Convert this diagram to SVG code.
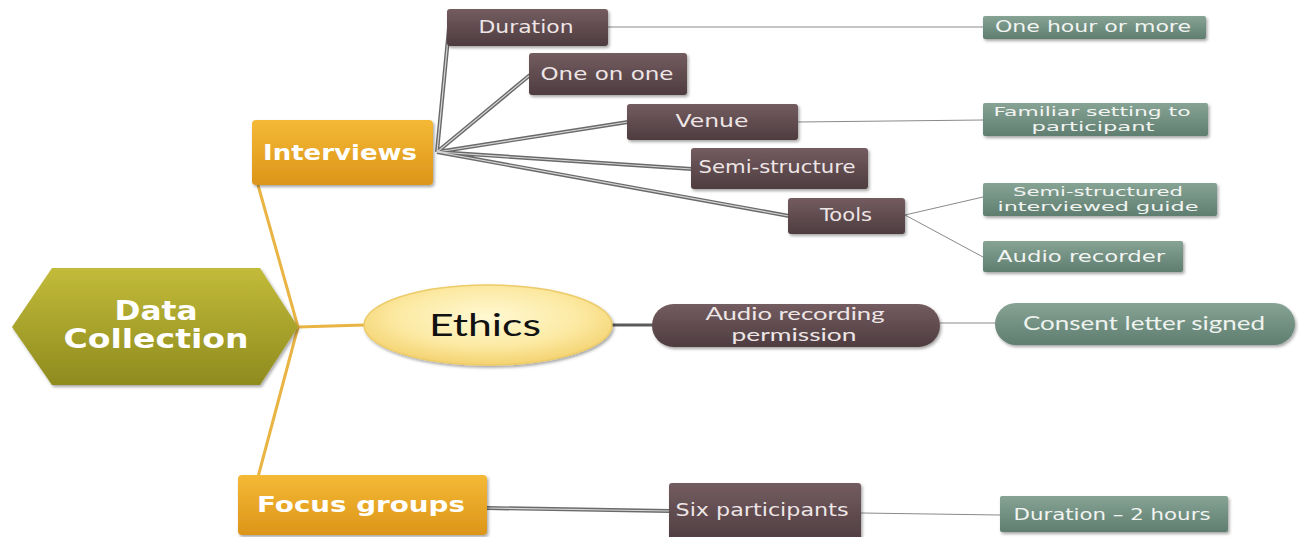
<svg xmlns="http://www.w3.org/2000/svg" width="1307" height="537" viewBox="0 0 1307 537">
<defs>
<linearGradient id="gOlive" x1="0" y1="0" x2="0" y2="1"><stop offset="0" stop-color="#C2BB3A"/><stop offset="1" stop-color="#8F8B1E"/></linearGradient>
<linearGradient id="gOrange" x1="0" y1="0" x2="0" y2="1"><stop offset="0" stop-color="#F5B936"/><stop offset="1" stop-color="#DC9519"/></linearGradient>
<radialGradient id="gEthics" cx="0.5" cy="0.4" r="0.6"><stop offset="0" stop-color="#FFF8D2"/><stop offset="0.6" stop-color="#FCEAA4"/><stop offset="1" stop-color="#F4D270"/></radialGradient>
<linearGradient id="gDark" x1="0" y1="0" x2="0" y2="1"><stop offset="0" stop-color="#735C60"/><stop offset="1" stop-color="#4E3C40"/></linearGradient>
<linearGradient id="gGreen" x1="0" y1="0" x2="0" y2="1"><stop offset="0" stop-color="#86A394"/><stop offset="1" stop-color="#5F7E70"/></linearGradient>
<filter id="sh" x="-10%" y="-20%" width="125%" height="150%"><feDropShadow dx="1.5" dy="2" stdDeviation="1.5" flood-color="#000" flood-opacity="0.35"/></filter>
</defs>
<style>
.g{font-family:"DejaVu Sans",sans-serif;fill:#EEE6E6;font-size:18px}
.gs{font-family:"DejaVu Sans",sans-serif;fill:#F2F4F2;font-size:16px}
.gt{font-family:"DejaVu Sans",sans-serif;fill:#F2F4F2;font-size:12.5px}
.cal{font-family:Lato,"Open Sans",sans-serif}
.b{font-family:"DejaVu Sans",sans-serif;font-weight:bold;fill:#FFFFFF}
.dark{fill:url(#gDark);filter:url(#sh)}
.green{fill:url(#gGreen);filter:url(#sh)}
.orange{fill:url(#gOrange);filter:url(#sh)}
.dbl{stroke:#6A6A6A;stroke-width:4;fill:none}
.dbi{stroke:#D5D5D5;stroke-width:1.2;fill:none}
.thin{stroke:#8A8A8A;stroke-width:1;fill:none}
.or{stroke:#E9B443;stroke-width:3;fill:none}
</style>
<rect width="1307" height="537" fill="#FFFFFF"/>
<g id="connectors">
<path class="or" d="M298,327 L258,185 M298,327 L258,477 M298,327 L364,325"/>
<g>
<path class="dbl" d="M437,152 L449,28 M437,152 L530,75 M437,152 L628,122 M437,152 L692,169 M437,152 L789,216 M487,508 L670,511"/>
<path class="dbi" d="M437,152 L449,28 M437,152 L530,75 M437,152 L628,122 M437,152 L692,169 M437,152 L789,216 M487,508 L670,511"/>
</g>
<path d="M612,325 L653,325" stroke="#5A5A5A" stroke-width="3" fill="none"/>
<path class="thin" d="M608,27 L983,27 M798,122 L983,120 M905,215 L983,197 M905,215 L983,257 M940,323 L996,323 M861,513 L1000,515"/>
</g>
<g id="data-collection">
<polygon points="12,327 52,268 260,268 298,327 260,385 52,385" fill="url(#gOlive)" filter="url(#sh)"/>
<text class="b" x="156" y="320" font-size="27" text-anchor="middle" textLength="83" lengthAdjust="spacingAndGlyphs">Data</text>
<text class="b" x="156" y="348" font-size="27" text-anchor="middle" textLength="185" lengthAdjust="spacingAndGlyphs">Collection</text>
</g>
<g id="interviews">
<rect class="orange" x="252" y="120" width="181" height="65" rx="4"/>
<text class="b" x="340" y="160" font-size="21" text-anchor="middle" textLength="154" lengthAdjust="spacingAndGlyphs">Interviews</text>
</g>
<g id="ethics">
<ellipse cx="488" cy="325" rx="124" ry="40" fill="url(#gEthics)" stroke="#EDCB68" stroke-width="1.5" filter="url(#sh)"/>
<text class="cal" x="485" y="336" font-size="31" fill="#111" text-anchor="middle" textLength="112" lengthAdjust="spacingAndGlyphs">Ethics</text>
</g>
<g id="focus-groups">
<rect class="orange" x="238" y="475" width="249" height="60" rx="4"/>
<text class="b" x="361" y="512" font-size="21" text-anchor="middle" textLength="208" lengthAdjust="spacingAndGlyphs">Focus groups</text>
</g>
<g id="duration">
<rect class="dark" x="447" y="9" width="161" height="37" rx="3"/>
<text class="g" x="526" y="33" text-anchor="middle" textLength="95" lengthAdjust="spacingAndGlyphs">Duration</text>
</g>
<g id="one-on-one">
<rect class="dark" x="529" y="53" width="158" height="42" rx="3"/>
<text class="g" x="607" y="80" text-anchor="middle" textLength="133" lengthAdjust="spacingAndGlyphs">One on one</text>
</g>
<g id="venue">
<rect class="dark" x="627" y="104" width="171" height="36" rx="3"/>
<text class="g" x="712" y="127" text-anchor="middle" textLength="73" lengthAdjust="spacingAndGlyphs">Venue</text>
</g>
<g id="semi-structure">
<rect class="dark" x="691" y="148" width="177" height="41" rx="3"/>
<text class="g" x="777" y="173" text-anchor="middle" textLength="157" lengthAdjust="spacingAndGlyphs">Semi-structure</text>
</g>
<g id="tools">
<rect class="dark" x="788" y="198" width="117" height="36" rx="3"/>
<text class="g" x="846" y="221" text-anchor="middle" textLength="52" lengthAdjust="spacingAndGlyphs">Tools</text>
</g>
<g id="one-hour">
<rect class="green" x="983" y="16" width="223" height="23" rx="2"/>
<text class="gs" x="1093" y="32" text-anchor="middle" textLength="196" lengthAdjust="spacingAndGlyphs">One hour or more</text>
</g>
<g id="familiar-setting">
<rect class="green" x="983" y="103" width="225" height="33" rx="2"/>
<text class="gt" x="1092" y="116" text-anchor="middle" textLength="197" lengthAdjust="spacingAndGlyphs">Familiar setting to</text>
<text class="gt" x="1093" y="131" text-anchor="middle" textLength="123" lengthAdjust="spacingAndGlyphs">participant</text>
</g>
<g id="semi-structured-guide">
<rect class="green" x="983" y="183" width="234" height="33" rx="2"/>
<text class="gt" x="1098" y="196" text-anchor="middle" textLength="170" lengthAdjust="spacingAndGlyphs">Semi-structured</text>
<text class="gt" x="1098" y="211" text-anchor="middle" textLength="201" lengthAdjust="spacingAndGlyphs">interviewed guide</text>
</g>
<g id="audio-recorder">
<rect class="green" x="983" y="241" width="200" height="31" rx="2"/>
<text class="gs" x="1081" y="262" text-anchor="middle" textLength="168" lengthAdjust="spacingAndGlyphs">Audio recorder</text>
</g>
<g id="audio-permission">
<rect class="dark" x="652" y="304" width="288" height="43" rx="21.5"/>
<text class="cal" x="795" y="320" font-size="18" fill="#EEE6E6" text-anchor="middle" textLength="179" lengthAdjust="spacingAndGlyphs">Audio recording</text>
<text class="cal" x="794" y="341" font-size="18" fill="#EEE6E6" text-anchor="middle" textLength="125" lengthAdjust="spacingAndGlyphs">permission</text>
</g>
<g id="consent">
<rect class="green" x="995" y="303" width="300" height="42" rx="21"/>
<text class="cal" x="1144" y="330" font-size="20" fill="#EEF2EE" text-anchor="middle" textLength="242" lengthAdjust="spacingAndGlyphs">Consent letter signed</text>
</g>
<g id="six-participants">
<rect class="dark" x="669" y="483" width="192" height="60" rx="3"/>
<text class="g" x="762" y="516" text-anchor="middle" textLength="173" lengthAdjust="spacingAndGlyphs">Six participants</text>
</g>
<g id="duration-2">
<rect class="green" x="1000" y="496" width="228" height="36" rx="2"/>
<text class="gs" x="1112" y="520" text-anchor="middle" textLength="197" lengthAdjust="spacingAndGlyphs">Duration – 2 hours</text>
</g>
</svg>
